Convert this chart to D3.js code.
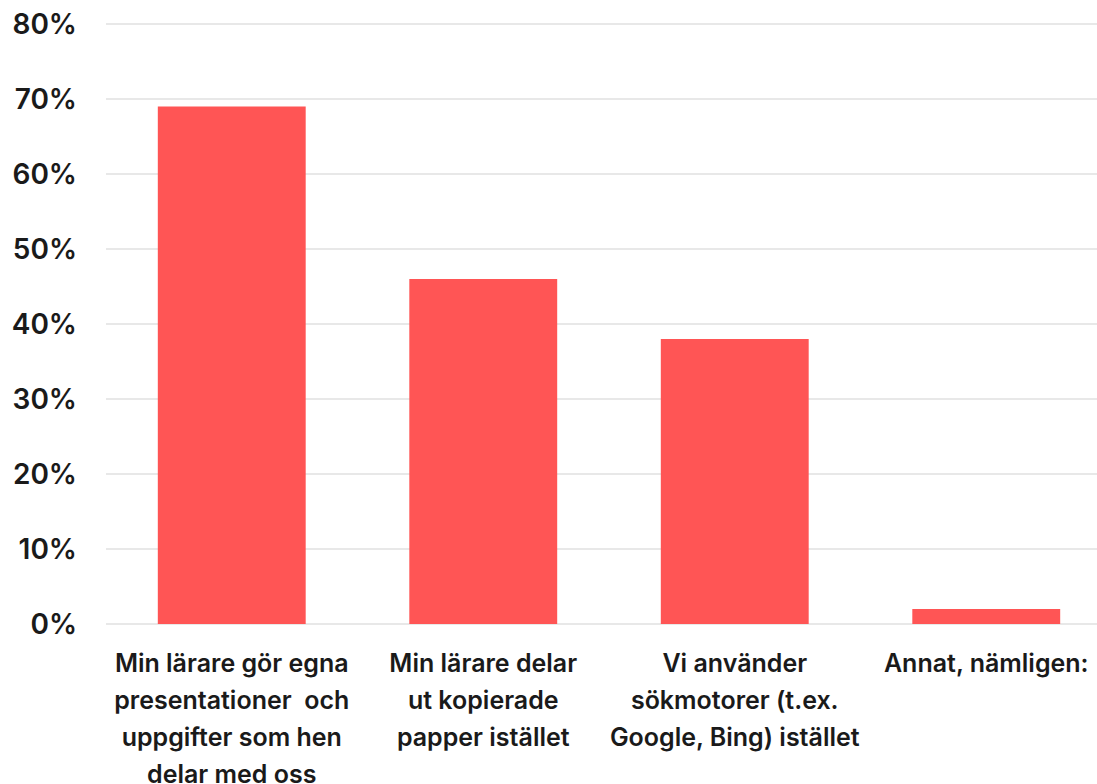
<!DOCTYPE html>
<html>
<head>
<meta charset="utf-8">
<script src="https://cdn.jsdelivr.net/npm/d3@7"></script>
<style>
  body { margin: 0; background: #fff; }
  svg text { font-family: Inter, "Noto Sans", sans-serif; fill: #1a1a1a; white-space: pre; }
</style>
</head>
<body>
<svg width="1097" height="784"></svg>
<script>
// data
var categories = ["cat1", "cat2", "cat3", "cat4"];
var labelLines = [
    ["Min lärare gör egna", "presentationer  och", "uppgifter som hen", "delar med oss"],
    ["Min lärare delar", "ut kopierade", "papper istället"],
    ["Vi använder", "sökmotorer (t.ex.", "Google, Bing) istället"],
    ["Annat, nämligen:"]
];
var values = [69, 46, 38, 2];
var yTicks = [0, 10, 20, 30, 40, 50, 60, 70, 80];

var svg = d3.select("svg"),
    width = +svg.attr("width"),
    height = +svg.attr("height");

var x = d3.scaleBand()
    .domain(categories)
    .range([106, 1112])
    .paddingInner(0.412)
    .paddingOuter(0.206);

var y = d3.scaleLinear()
    .domain([0, 80])
    .range([624, 24]);

// gridlines
svg.append("g")
    .selectAll("line")
    .data(yTicks)
    .enter().append("line")
    .attr("x1", 106)
    .attr("x2", width)
    .attr("y1", function (d) { return y(d); })
    .attr("y2", function (d) { return y(d); })
    .attr("stroke", "#e8e8e8")
    .attr("stroke-width", 2);

// y tick labels
svg.append("g")
    .selectAll("text")
    .data(yTicks)
    .enter().append("text")
    .attr("x", 77)
    .attr("y", function (d) { return y(d); })
    .attr("dy", "0.36em")
    .attr("text-anchor", "end")
    .style("font-size", "28px")
    .style("font-weight", 600)
    .text(function (d) { return d + "%"; });

// bars
svg.append("g")
    .selectAll("rect")
    .data(values)
    .enter().append("rect")
    .attr("x", function (d, i) { return x(categories[i]); })
    .attr("width", x.bandwidth())
    .attr("y", function (d) { return y(d); })
    .attr("height", function (d) { return y(0) - y(d); })
    .attr("fill", "#ff5555");

// x labels
var lab = svg.append("g")
    .selectAll("text")
    .data(labelLines)
    .enter().append("text")
    .attr("text-anchor", "middle")
    .style("font-size", "25px")
    .style("font-weight", 600)
    .attr("transform", function (d, i) {
        return "translate(" + (x(categories[i]) + x.bandwidth() / 2) + ",672)";
    });

lab.selectAll("tspan")
    .data(function (d) { return d; })
    .enter().append("tspan")
    .attr("x", 0)
    .attr("y", function (d, i) { return i * 37; })
    .text(function (d) { return d; });
</script>
</body>
</html>
